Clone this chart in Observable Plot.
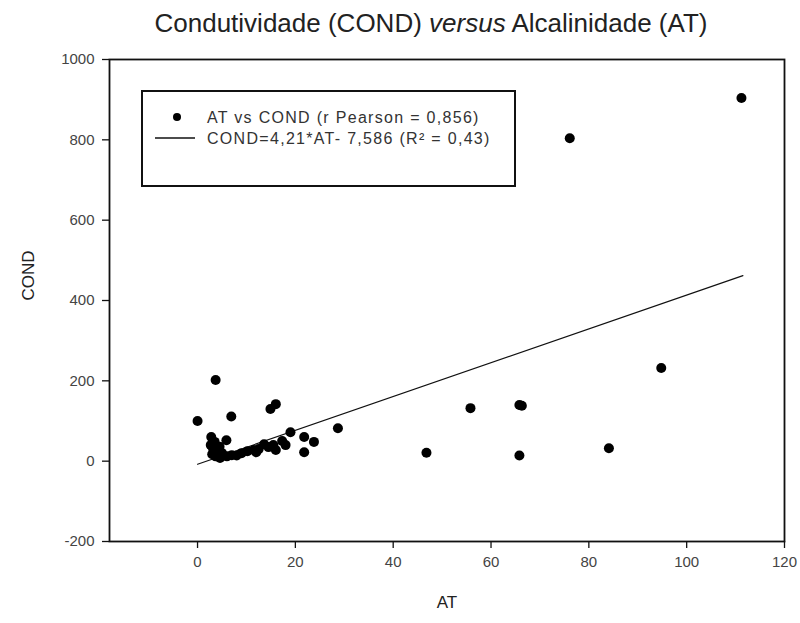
<!DOCTYPE html>
<html>
<head>
<meta charset="utf-8">
<script src="https://cdn.jsdelivr.net/npm/d3@7"></script>
<script src="https://cdn.jsdelivr.net/npm/@observablehq/plot@0.6"></script>
<style>
  html, body { margin: 0; padding: 0; background: #fff; }
  #chart { width: 800px; height: 623px; }
  svg { font-family: "Liberation Sans", Arial, sans-serif; }
</style>
</head>
<body>
<div id="chart"></div>
<script>
// Data
const AT = [111.2, 76.1, 94.8, 84.1, 65.8, 66.3, 65.8, 55.8, 46.8, 28.7,
  3.7, 0.0, 6.9, 14.9, 16.0, 2.8, 2.7, 5.9, 3.0, 3.7, 4.6, 6.0, 8.0, 9.0,
  10.2, 11.5, 12.5, 13.6, 14.5, 16.0, 17.3, 19.0, 21.8, 23.8, 21.8, 4.0,
  5.0, 7.0, 3.5, 15.5, 18.0, 12.0, 3.2, 4.5];
const COND = [904, 804, 232, 32, 140, 138, 14, 132, 21, 82,
  202, 100, 111, 130, 142, 60, 40, 52, 17, 12, 8, 12, 14, 20,
  25, 28, 30, 42, 35, 28, 50, 72, 60, 48, 22, 28,
  20, 15, 48, 40, 40, 22, 30, 36];
const fitAT = [0, 111.5];
const fitCOND = [-7.6, 461.8];
const xTicks = [0, 20, 40, 60, 80, 100, 120];
const yTicks = [-200, 0, 200, 400, 600, 800, 1000];
const xDomain = [-18, 120];
const yDomain = [-200, 1000];
const titleParts = [
  {text: "Condutividade (COND) ", italic: false},
  {text: "versus", italic: true},
  {text: " Alcalinidade (AT)", italic: false}
];
const legendItems = ["AT vs COND (r Pearson = 0,856)", "COND=4,21*AT- 7,586 (R\u00b2 = 0,43)"];
const xLabel = "AT";
const yLabel = "COND";

const points = AT.map((a, i) => ({at: a, cond: COND[i]}));
const fit = fitAT.map((a, i) => ({at: a, cond: fitCOND[i]}));

const chart = Plot.plot({
  width: 800,
  height: 623,
  marginLeft: 109,
  marginRight: 16,
  marginTop: 59,
  marginBottom: 82,
  style: {fontFamily: "Liberation Sans, Arial, sans-serif", fontSize: "15px", color: "#222", background: "#fff"},
  x: {domain: xDomain},
  y: {domain: yDomain},
  marks: [
    Plot.frame({stroke: "#111", strokeWidth: 1.8}),
    Plot.axisX({ticks: xTicks, tickSize: 7, tickPadding: 8, label: null, fontSize: 15, stroke: "#111", strokeWidth: 1.3, fill: "#444", tickFormat: d => String(d), letterSpacing: 0.6}),
    Plot.axisY({ticks: yTicks, tickSize: 7, tickPadding: 8, label: null, fontSize: 15, stroke: "#111", strokeWidth: 1.3, fill: "#444", tickFormat: d => String(d), letterSpacing: 0.6}),
    Plot.line(fit, {x: "at", y: "cond", stroke: "#111", strokeWidth: 1.2}),
    Plot.dot(points, {x: "at", y: "cond", r: 5, fill: "#000", stroke: "none"}),
    Plot.text([xLabel], {frameAnchor: "bottom", dy: 66, fontSize: 17, fill: "#222"}),
    Plot.text([yLabel], {frameAnchor: "left", dx: -81, rotate: -90, fontSize: 17, fill: "#222", letterSpacing: 1})
  ]
});

document.getElementById("chart").appendChild(chart);

const svg = d3.select(chart);
// Title
const t = svg.append("text")
  .attr("x", 431).attr("y", 32)
  .attr("text-anchor", "middle")
  .attr("font-size", 26)
  .attr("fill", "#222");
titleParts.forEach(p => {
  t.append("tspan").text(p.text).attr("font-style", p.italic ? "italic" : "normal");
});

// Legend box
const lg = svg.append("g");
lg.append("rect").attr("x", 142).attr("y", 91).attr("width", 373).attr("height", 95)
  .attr("fill", "#fff").attr("stroke", "#111").attr("stroke-width", 2);
lg.append("circle").attr("cx", 177).attr("cy", 117).attr("r", 4).attr("fill", "#000");
lg.append("line").attr("x1", 155).attr("x2", 195).attr("y1", 138).attr("y2", 138)
  .attr("stroke", "#111").attr("stroke-width", 1.3);
legendItems.forEach((s, i) => {
  lg.append("text").attr("x", 207).attr("y", 122.5 + i * 21.5)
    .attr("text-anchor", "start")
    .attr("font-size", 16).attr("letter-spacing", 1.3)
    .attr("fill", "#333").text(s);
});
</script>
</body>
</html>
